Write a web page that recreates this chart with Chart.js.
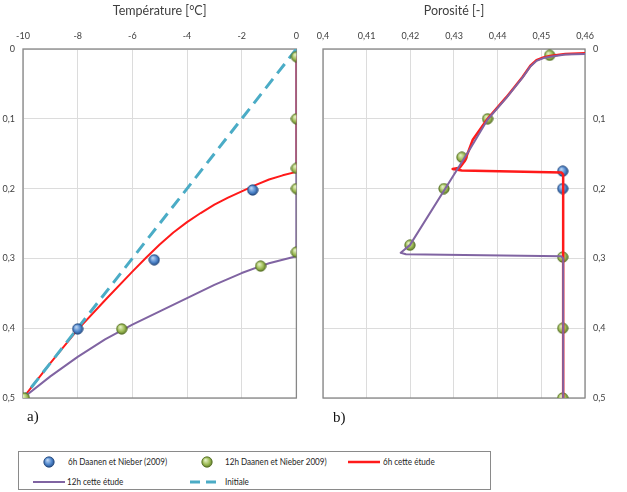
<!DOCTYPE html>
<html>
<head>
<meta charset="utf-8">
<script src="https://cdn.jsdelivr.net/npm/chart.js@4.4.0/dist/chart.umd.min.js"></script>
<style>
  html, body { margin: 0; padding: 0; background: #ffffff; }
  #wrap { position: relative; width: 627px; height: 492px; overflow: hidden; background: #fff; font-family: Lato, "Open Sans", sans-serif; }
  canvas.ch { position: absolute; top: 0; }
  .panel-lbl { position: absolute; font-family: "Liberation Serif", "DejaVu Serif", serif; font-size: 15px; color: #111; }
  #legend { position: absolute; left: 18px; top: 451px; width: 473px; height: 39px; border: 1px solid #8a8a8a; box-sizing: border-box; }
  .li { position: absolute; font-size: 9px; color: #262626; line-height: 12px; white-space: nowrap; transform: scaleX(0.9); transform-origin: 0 50%; }
  .mk { position: absolute; }
</style>
</head>
<body>
<div id="wrap">
  <canvas id="c1" class="ch" width="307" height="420" style="left:0px"></canvas>
  <canvas id="c2" class="ch" width="320" height="420" style="left:307px"></canvas>
  <div class="panel-lbl" style="left:27px; top:408px;">a)</div>
  <div class="panel-lbl" style="left:333px; top:409px;">b)</div>
  <div id="legend"></div>
</div>
<script>
// ---------- tick labels ----------
const tempTicks = [-10, -8, -6, -4, -2, 0];
const tempTickLabels = ['-10', '-8', '-6', '-4', '-2', '0'];
const porosityTicks = [0.40, 0.41, 0.42, 0.43, 0.44, 0.45, 0.46];
const porosityTickLabels = ['0,4', '0,41', '0,42', '0,43', '0,44', '0,45', '0,46'];
const depthTicks = [0, 0.1, 0.2, 0.3, 0.4, 0.5];
const depthTickLabels = ['0', '0,1', '0,2', '0,3', '0,4', '0,5'];

// ---------- series names ----------
const seriesNames = ['6h Daanen et Nieber (2009)', '12h Daanen et Nieber 2009)', '6h cette étude', '12h cette étude', 'Initiale'];

// ---------- a) temperature ----------
const obs6hTemp = [-1.6, -5.2, -8.0];
const obs6hTempDepth = [0.202, 0.302, 0.401];
const obs12hTemp = [0, 0, 0, 0, 0, -1.31, -6.39, -9.95];
const obs12hTempDepth = [0.011, 0.1, 0.171, 0.2, 0.291, 0.311, 0.401, 0.5];
const sim6hTemp = [0, 0, -0.5, -1, -1.5, -2, -2.5, -3, -3.5, -4, -4.5, -5, -5.5, -6, -7, -8, -9, -10];
const sim6hTempDepth = [0.011, 0.176, 0.181, 0.187, 0.195, 0.204, 0.213, 0.223, 0.235, 0.248, 0.263, 0.28, 0.299, 0.319, 0.36, 0.402, 0.45, 0.5];
const sim12hTemp = [0, 0, -0.5, -1, -1.31, -2, -3, -4, -5, -6, -7, -8, -9, -10];
const sim12hTempDepth = [0.011, 0.297, 0.302, 0.307, 0.311, 0.321, 0.338, 0.357, 0.376, 0.395, 0.416, 0.441, 0.469, 0.5];
const initTemp = [0, -10];
const initTempDepth = [0.0, 0.5];

// ---------- b) porosity ----------
const obs6hPor = [0.4549, 0.4549];
const obs6hPorDepth = [0.175, 0.2];
const obs12hPor = [0.4519, 0.4377, 0.4318, 0.4277, 0.4199, 0.4549, 0.4549, 0.4549];
const obs12hPorDepth = [0.009, 0.1, 0.155, 0.2, 0.281, 0.298, 0.4, 0.5];
const sim6hPor = [0.46, 0.4555, 0.452, 0.4505, 0.4489, 0.4475, 0.4457, 0.442, 0.4377, 0.4343, 0.4325, 0.4313, 0.4297, 0.4318, 0.4546, 0.4550, 0.4550];
const sim6hPorDepth = [0.006, 0.007, 0.010, 0.012, 0.016, 0.024, 0.040, 0.069, 0.100, 0.130, 0.160, 0.170, 0.172, 0.174, 0.177, 0.180, 0.5];
const sim12hPor = [0.46, 0.4555, 0.452, 0.4505, 0.4489, 0.4475, 0.4457, 0.442, 0.4377, 0.4336, 0.4199, 0.4178, 0.4190, 0.4546, 0.4550, 0.4550];
const sim12hPorDepth = [0.007, 0.008, 0.011, 0.013, 0.017, 0.025, 0.041, 0.070, 0.101, 0.144, 0.281, 0.292, 0.294, 0.297, 0.300, 0.5];

// ---------- helpers ----------
function pts(xs, ys) { return xs.map((x, i) => ({ x: x, y: ys[i] })); }

function sphere(main, light, dark) {
  const c = document.createElement('canvas');
  c.width = 12; c.height = 12;
  const g = c.getContext('2d');
  const grad = g.createRadialGradient(4.5, 4, 0.5, 6, 6, 6);
  grad.addColorStop(0, light);
  grad.addColorStop(0.55, main);
  grad.addColorStop(1, dark);
  g.beginPath();
  g.arc(6, 6, 5.2, 0, Math.PI * 2);
  g.fillStyle = grad;
  g.fill();
  g.lineWidth = 0.8;
  g.strokeStyle = dark;
  g.stroke();
  return c;
}
const blueBall = sphere('#4f86cc', '#b9d3f2', '#1f4479');
const greenBall = sphere('#9dbb55', '#e2efc2', '#4f6a1f');

const C_RED = '#ff1a1a';
const C_PURPLE = '#8064a2';
const C_CYAN = '#4bacc6';
const GRID = '#dcdcdc';
const BORDER = '#878787';
const TXT = '#404040';
const FONT = 'Lato, "Open Sans", sans-serif';

const boxPlugin = {
  id: 'box',
  beforeDatasetsDraw(chart) {
    const { ctx, chartArea: a } = chart;
    ctx.save();
    ctx.strokeStyle = BORDER;
    ctx.lineWidth = 1.3;
    ctx.strokeRect(a.left, a.top, a.right - a.left, a.bottom - a.top);
    ctx.restore();
  }
};

function pointDs(label, data, img, order) {
  return { label, data, showLine: false, pointStyle: img, pointRadius: 6, pointHoverRadius: 6, order };
}
function lineDs(label, data, color, width, dash, order) {
  return { label, data, showLine: true, borderColor: color, borderWidth: width, borderDash: dash || [],
           pointRadius: 0, pointHoverRadius: 0, fill: false, tension: 0, order, borderCapStyle: 'butt', borderJoinStyle: 'round' };
}

function xAxis(title, ticks, labels, min, max) {
  return {
    type: 'linear', position: 'top', min, max,
    afterBuildTicks: ax => { ax.ticks = ticks.map(v => ({ value: v })); },
    afterFit: ax => { ax.height = 49; },
    ticks: { callback: (v, i) => labels[i], color: TXT, font: { family: FONT, size: 9 }, padding: 8, maxRotation: 0, autoSkip: false },
    grid: { color: GRID, lineWidth: 1, drawTicks: false },
    border: { display: false },
    title: { display: true, text: title, color: TXT, font: { family: FONT, size: 12.5 }, padding: { top: 3, bottom: 0 } }
  };
}
function yAxis(pos, width) {
  return {
    type: 'linear', position: pos, reverse: true, min: 0, max: 0.5,
    afterBuildTicks: ax => { ax.ticks = depthTicks.map(v => ({ value: v })); },
    afterFit: ax => { ax.width = width; },
    ticks: { callback: (v, i) => depthTickLabels[i], color: TXT, font: { family: FONT, size: 9 }, padding: 8, autoSkip: false },
    grid: { color: GRID, lineWidth: 1, drawTicks: false },
    border: { display: false }
  };
}

const common = {
  responsive: false, animation: false, devicePixelRatio: 1,
  plugins: { legend: { display: false }, tooltip: { enabled: false } },
  events: []
};

new Chart(document.getElementById('c1'), {
  type: 'scatter',
  data: { datasets: [
    pointDs(seriesNames[0], pts(obs6hTemp, obs6hTempDepth), blueBall, 0),
    pointDs(seriesNames[1], pts(obs12hTemp, obs12hTempDepth), greenBall, 1),
    lineDs(seriesNames[4], pts(initTemp, initTempDepth), C_CYAN, 3, [12, 7], 2),
    lineDs(seriesNames[3], pts(sim12hTemp, sim12hTempDepth), C_PURPLE, 2, null, 3),
    lineDs(seriesNames[2], pts(sim6hTemp, sim6hTempDepth), C_RED, 2, null, 4)
  ]},
  options: Object.assign({}, common, {
    layout: { padding: { left: 0, top: 0, right: 10, bottom: 22 } },
    scales: { x: xAxis('Température [°C]', tempTicks, tempTickLabels, -10, 0), y: yAxis('left', 23) }
  }),
  plugins: [boxPlugin]
});

new Chart(document.getElementById('c2'), {
  type: 'scatter',
  data: { datasets: [
    lineDs(seriesNames[3], pts(sim12hPor, sim12hPorDepth), C_PURPLE, 2, null, 0),
    lineDs(seriesNames[2], pts(sim6hPor, sim6hPorDepth), C_RED, 2.5, null, 1),
    pointDs(seriesNames[0], pts(obs6hPor, obs6hPorDepth), blueBall, 2),
    pointDs(seriesNames[1], pts(obs12hPor, obs12hPorDepth), greenBall, 3)
  ]},
  options: Object.assign({}, common, {
    layout: { padding: { left: 16, top: 0, right: 0, bottom: 22 } },
    scales: { x: xAxis('Porosité [-]', porosityTicks, porosityTickLabels, 0.40, 0.46), y: yAxis('right', 42) }
  }),
  plugins: [boxPlugin]
});

// ---------- legend (HTML) ----------
const legend = document.getElementById('legend');
const OX = 18, OY = 451;
function addText(txt, x, y) {
  const d = document.createElement('div');
  d.className = 'li'; d.textContent = txt;
  d.style.left = (x - OX) + 'px'; d.style.top = (y - OY - 6) + 'px';
  legend.appendChild(d);
}
function addBall(img, cx, cy) {
  const c = document.createElement('canvas');
  c.width = 12; c.height = 12; c.className = 'mk';
  c.getContext('2d').drawImage(img, 0, 0);
  c.style.left = (cx - OX - 6) + 'px'; c.style.top = (cy - OY - 6) + 'px';
  legend.appendChild(c);
}
function addLine(color, x1, x2, cy, w, dash) {
  const c = document.createElement('canvas');
  c.width = x2 - x1; c.height = 6; c.className = 'mk';
  const g = c.getContext('2d');
  g.strokeStyle = color; g.lineWidth = w; g.setLineDash(dash || []);
  g.beginPath(); g.moveTo(0, 3); g.lineTo(x2 - x1, 3); g.stroke();
  c.style.left = (x1 - OX) + 'px'; c.style.top = (cy - OY - 3) + 'px';
  legend.appendChild(c);
}
addBall(blueBall, 48, 461); addText(seriesNames[0], 67, 461);
addBall(greenBall, 206, 461); addText(seriesNames[1], 224, 461);
addLine(C_RED, 347, 379, 461, 2.5); addText(seriesNames[2], 382, 461);
addLine(C_PURPLE, 32, 64, 481, 2); addText(seriesNames[3], 66, 481);
addLine(C_CYAN, 189, 216, 481, 3, [10, 6]); addText(seriesNames[4], 224, 481);
</script>
</body>
</html>
